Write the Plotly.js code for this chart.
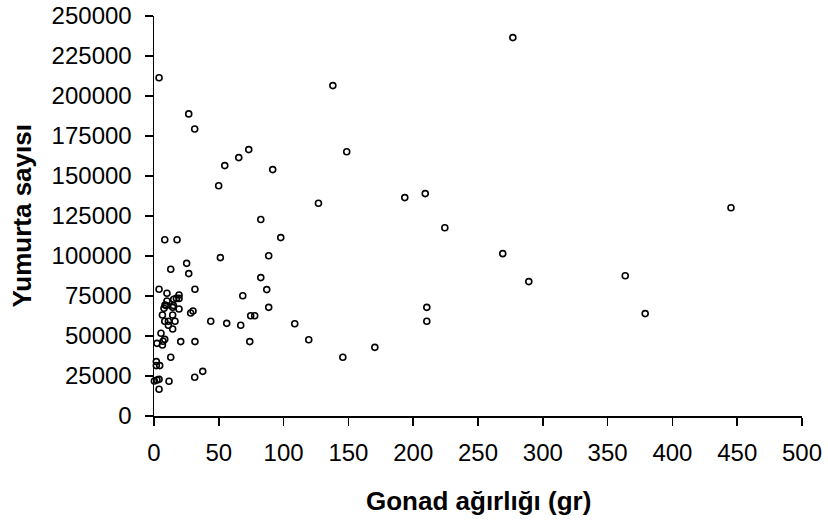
<!DOCTYPE html>
<html>
<head>
<meta charset="utf-8">
<script src="https://cdn.plot.ly/plotly-3.0.1.min.js"></script>
<style>html,body{margin:0;padding:0;background:#fff;}#chart{width:828px;height:525px;}</style>
</head>
<body>
<div id="chart"></div>
<script>
// Gonad weight (gr)
var gonadWeight = [
  3.9, 26.8, 31.4, 73.1, 65.4, 54.6, 148.7, 91.6, 49.9, 138,
  126.9, 193.5, 209.3, 276.9, 445.2, 269.1, 224.4, 289.2, 82.4, 97.8,
  88.5, 82.4, 87, 88.5, 210.5, 210.5, 74.6, 77.7, 108.6, 119.4,
  73.9, 145.7, 170.4, 363.6, 379, 68.5, 56.1, 66.9, 43.8, 51.2,
  8.3, 17.8, 25.2, 12.9, 26.8, 3.9, 31.6, 10, 19.3, 17.3,
  19.3, 15.2, 10, 8.5, 9.5, 15, 19.3, 30.1, 28.3, 6.5,
  14.4, 8.3, 11.1, 16.2, 11.1, 14.4, 5.4, 8.3, 7, 2.3,
  6.5, 20.6, 31.6, 12.9, 1.8, 1.8, 4.4, 0.3, 2.3, 3.9,
  11.6, 37.6, 31.4, 3.9, 7.7, 14.4
];
// Egg count
var eggCount = [
  211400, 188800, 179400, 166500, 161500, 156500, 165200, 154000, 143900, 206500,
  133000, 136500, 139000, 236500, 130200, 101500, 117700, 84000, 122800, 111500,
  100200, 86500, 79000, 67900, 67900, 59200, 62700, 62700, 57700, 47700,
  46500, 36700, 42900, 87700, 64000, 75200, 57900, 56700, 59200, 99000,
  110200, 110200, 95400, 91700, 89000, 79200, 79200, 76700, 75600, 73500,
  73500, 73000, 71900, 69400, 69000, 69000, 66900, 65600, 64400, 63100,
  63100, 59200, 59200, 59200, 56700, 54400, 51700, 47900, 46700, 45400,
  44400, 46500, 46500, 36700, 34000, 31500, 31500, 21900, 22500, 22900,
  21700, 27900, 24200, 16700, 67300, 67900
];
var xTicks = [0, 50, 100, 150, 200, 250, 300, 350, 400, 450, 500];
var yTicks = [0, 25000, 50000, 75000, 100000, 125000, 150000, 175000, 200000, 225000, 250000];
var xTitle = "Gonad ağırlığı (gr)";
var yTitle = "Yumurta sayısı";

var font = "Liberation Sans, Arial, sans-serif";
var trace = {
  x: gonadWeight, y: eggCount, type: "scatter", mode: "markers",
  cliponaxis: false,
  marker: {symbol: "circle-open", size: 6, color: "#000", line: {color: "#000", width: 1.6}},
  hoverinfo: "none"
};
var axisCommon = {
  showgrid: false, zeroline: false, showline: true, linecolor: "#000", linewidth: 1.5,
  ticks: "outside", ticklen: 8, tickwidth: 1.5, tickcolor: "#000",
  tickfont: {family: font, size: 24, color: "#000"}
};
var layout = {
  width: 828, height: 525,
  margin: {l: 154, r: 26, t: 16, b: 109},
  paper_bgcolor: "#fff", plot_bgcolor: "#fff",
  showlegend: false,
  font: {family: font, color: "#000", size: 20},
  xaxis: Object.assign({
    range: [0, 500], tickmode: "array", tickvals: xTicks, ticktext: xTicks.map(String),
    ticklabelstandoff: 7
  }, axisCommon),
  yaxis: Object.assign({
    range: [0, 250000], tickmode: "array", tickvals: yTicks, ticktext: yTicks.map(String),
    ticklabelstandoff: 8
  }, axisCommon),
  annotations: [
    {text: "<b>" + xTitle + "</b>", xref: "paper", yref: "paper", x: 0.5, y: -0.2125,
     xanchor: "center", yanchor: "middle", showarrow: false,
     font: {family: font, size: 26, color: "#000"}},
    {text: "<b>" + yTitle + "</b>", xref: "paper", yref: "paper", x: -0.2043, y: 0.5,
     xanchor: "center", yanchor: "middle", textangle: -90, showarrow: false,
     font: {family: font, size: 26, color: "#000"}}
  ]
};
Plotly.newPlot("chart", [trace], layout, {staticPlot: true, displayModeBar: false});
</script>
</body>
</html>
